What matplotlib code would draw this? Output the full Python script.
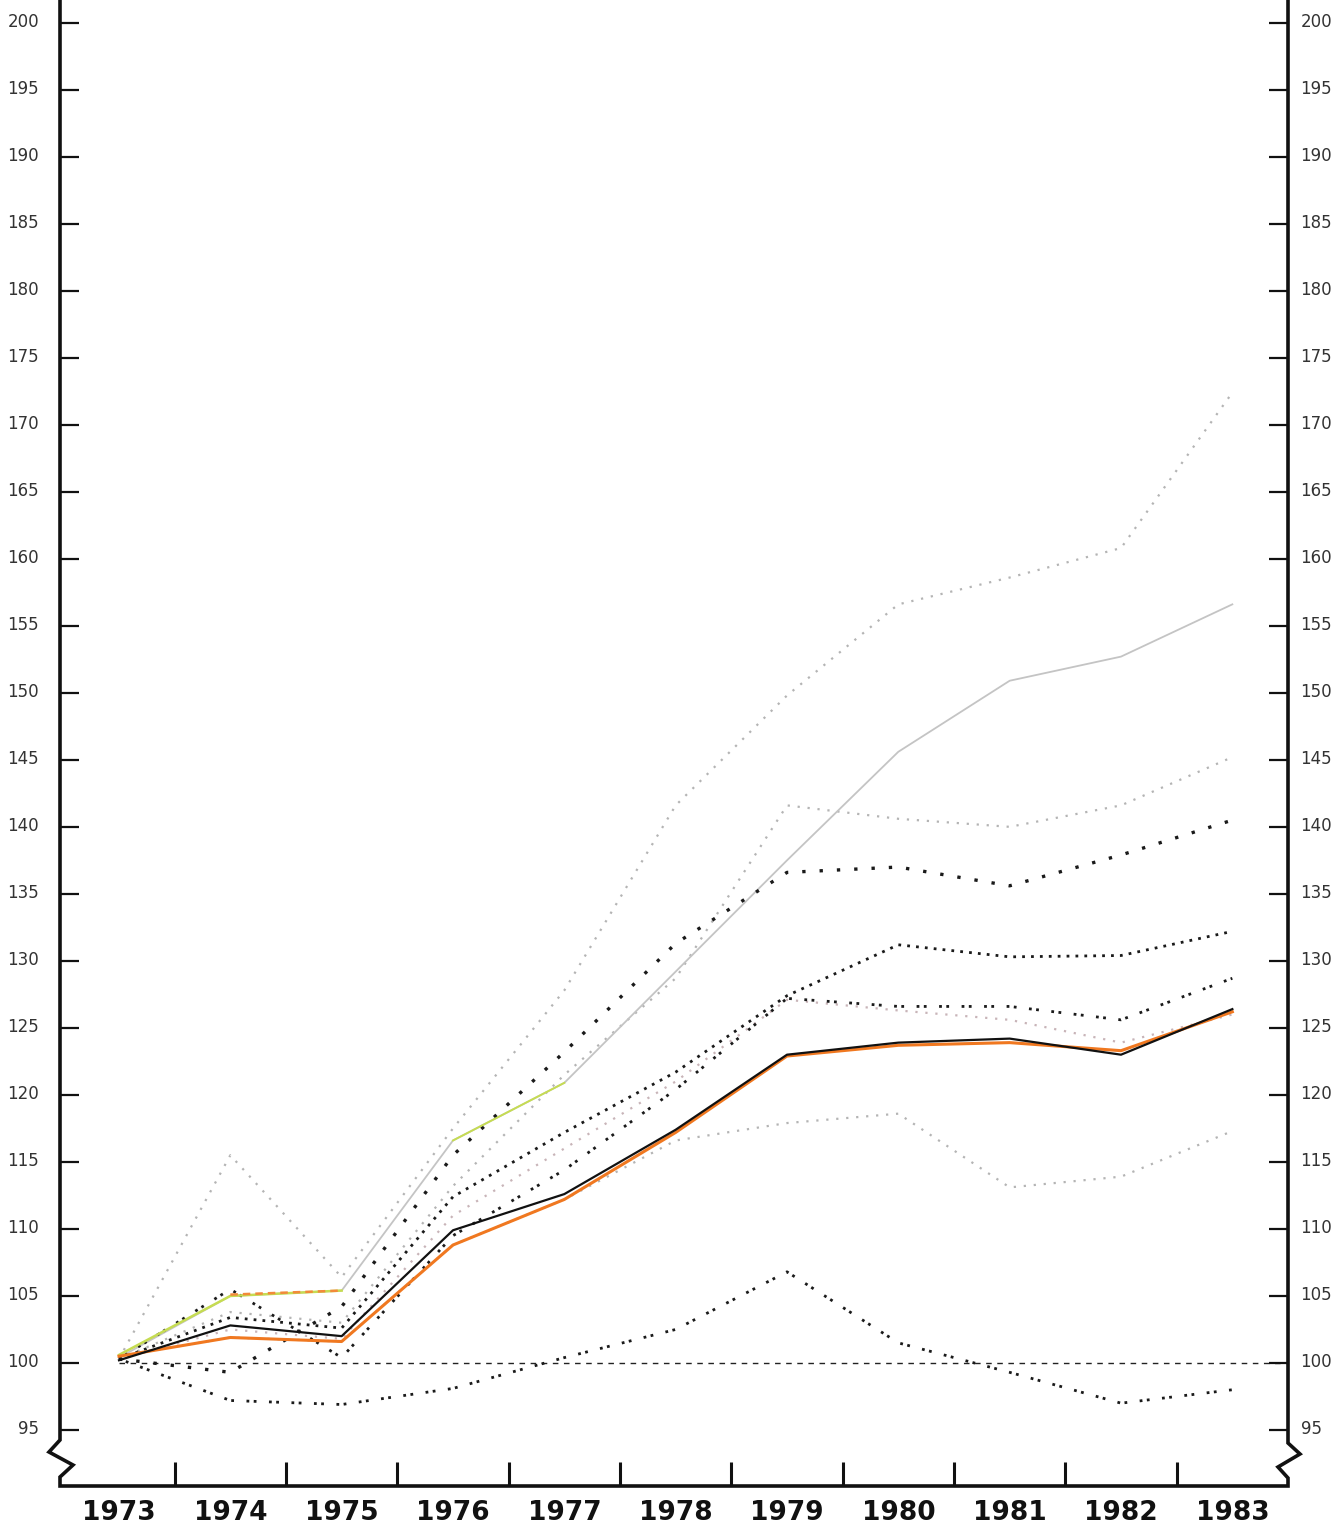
import matplotlib
matplotlib.use("Agg")
import matplotlib.pyplot as plt
from matplotlib.transforms import ScaledTranslation

# ---- data -------------------------------------------------------------
years = [1973, 1974, 1975, 1976, 1977, 1978, 1979, 1980, 1981, 1982, 1983]
year_labels = [str(y) for y in years]
y_ticks = list(range(95, 201, 5))

# solid lines
main_index = [100.2, 102.8, 102.0, 109.9, 112.6, 117.4, 123.0, 123.9, 124.2, 123.0, 126.4]
orange_index = [100.5, 101.9, 101.6, 108.8, 112.2, 117.2, 122.9, 123.7, 123.9, 123.3, 126.2]
grey_solid = [100.4, 105.0, 105.4, 116.6, 120.9, 129.2, 137.5, 145.6, 150.9, 152.7, 156.6]
green_early = [100.6, 105.0, 105.4]
orange_early = [100.5, 105.1, 105.4]

# black dotted lines
dot_a = [100.3, 99.3, 104.2, 115.5, 123.2, 131.3, 136.6, 137.0, 135.6, 137.9, 140.5]
dot_b = [100.3, 103.4, 102.6, 112.4, 117.2, 121.7, 127.4, 131.2, 130.3, 130.4, 132.2]
dot_c = [100.3, 105.5, 100.4, 109.5, 114.4, 120.4, 127.2, 126.6, 126.6, 125.6, 128.7]
dot_d = [100.3, 97.2, 96.9, 98.1, 100.4, 102.5, 106.8, 101.5, 99.3, 97.0, 98.0]

# grey dotted lines
grey_a = [100.3, 115.5, 106.4, 117.5, 127.8, 141.6, 149.8, 156.6, 158.6, 160.8, 172.4]
grey_b = [100.3, 103.8, 103.0, 113.2, 121.5, 128.7, 141.6, 140.6, 140.0, 141.6, 145.2]
grey_c = [100.5, 101.9, 101.6, 108.8, 112.2, 116.6, 117.9, 118.6, 113.1, 113.9, 117.3]
grey_d = [100.3, 102.5, 101.8, 111.0, 116.0, 121.0, 127.1, 126.3, 125.6, 123.9, 126.0]

baseline = 100

# ---- figure -----------------------------------------------------------
W, H = 1336, 1528
fig = plt.figure(figsize=(W / 100, H / 100), dpi=100)
fig.patch.set_facecolor("white")

left_px, right_px, bottom_px = 60, 1288, 1486
ax = fig.add_axes([left_px / W, (H - bottom_px) / H,
                   (right_px - left_px) / W, bottom_px / H])
ax.set_facecolor("white")

x0, x1 = 1972.47, 1983.50
y0, y1 = 90.82, 201.69
ax.set_xlim(x0, x1)
ax.set_ylim(y0, y1)
for s in ax.spines.values():
    s.set_visible(False)

# reference line at 100
ax.plot([years[0], x1], [baseline, baseline], color="#222222", lw=1.0,
        ls=(0, (4, 4)), zorder=2)

# grey dotted
gd = dict(color="#b4b4b4", lw=1.6, ls=(0, (1, 3.5)), zorder=2)
ax.plot(years, grey_a, **gd)
ax.plot(years, grey_b, **gd)
ax.plot(years, grey_c, **gd)
ax.plot(years, grey_d, color="#c8b4b8", lw=1.6, ls=(0, (1, 3.5)), zorder=2)

# grey solid
ax.plot(years, grey_solid, color="#c4c4c4", lw=1.3, zorder=3)

# black dotted
ax.plot(years, dot_a, color="#1a1a1a", lw=2.4, ls=(0, (1, 4.2)), zorder=4)
ax.plot(years, dot_b, color="#1a1a1a", lw=2.0, ls=(0, (1, 2.2)), zorder=4)
ax.plot(years, dot_c, color="#1a1a1a", lw=2.0, ls=(0, (1, 1.6, 1, 4.5)), zorder=4)
ax.plot(years, dot_d, color="#1a1a1a", lw=2.0, ls=(0, (1, 1.6, 1, 4.5)), zorder=4)

# coloured solids
ax.plot(years[:len(green_early)], green_early, color="#c6dc52", lw=1.8, zorder=5)
ax.plot(years[3:5], grey_solid[3:5], color="#c6dc52", lw=1.4, zorder=5)
ax.plot(years[1:len(orange_early)], orange_early[1:], color="#f28a3a", lw=1.8,
        ls=(0, (3, 2)), zorder=5)
ax.plot(years, orange_index, color="#f07820", lw=2.2, zorder=5)
ax.plot(years, main_index, color="#111111", lw=1.6, zorder=6)

# ---- axes frame with broken-axis zigzags -------------------------------
px_x = (x1 - x0) / (right_px - left_px)        # years per pixel
px_y = (y1 - y0) / bottom_px                   # index units per pixel
def ypx(p):
    return y0 + (bottom_px - p) * px_y

frame = dict(color="#111111", lw=2.6, clip_on=False, zorder=10,
             solid_joinstyle="miter")
ax.plot([x0, x0, x0 - 11 * px_x, x0 + 13 * px_x, x0, x0, x1, x1,
         x1 - 10 * px_x, x1 + 12 * px_x, x1, x1],
        [y1, ypx(1440), ypx(1452), ypx(1465), ypx(1477), y0, y0, ypx(1478),
         ypx(1467), ypx(1454), ypx(1443), y1], **frame)

# ---- ticks -------------------------------------------------------------
lift = ScaledTranslation(0, 3 / 100, fig.dpi_scale_trans)

ax.set_yticks(y_ticks)
ax.set_yticklabels([str(v) for v in y_ticks])
ax.tick_params(axis="y", which="major", direction="in", length=14, width=1.6,
               left=True, right=False, labelleft=True, labelright=False,
               pad=15, labelsize=12, labelcolor="#333333", color="#111111")
for lab in ax.get_yticklabels():
    lab.set_transform(lab.get_transform() + lift)

# right-hand scale repeats the left one
axr = ax.twinx()
axr.set_ylim(y0, y1)
for s in axr.spines.values():
    s.set_visible(False)
axr.set_yticks(y_ticks)
axr.set_yticklabels([str(v) for v in y_ticks])
axr.tick_params(axis="y", which="major", direction="in", length=14, width=1.6,
                pad=9, labelsize=12, labelcolor="#333333", color="#111111")
for lab in axr.get_yticklabels():
    lab.set_transform(lab.get_transform() + lift)

ax.set_xticks([y + 0.5 for y in years[:-1]])
ax.set_xticklabels([])
ax.set_xticks(years, minor=True)
ax.set_xticklabels(year_labels, minor=True, fontsize=19, fontweight="bold",
                   color="#111111")
ax.tick_params(axis="x", which="major", direction="in", length=17, width=2.2,
               color="#111111")
ax.tick_params(axis="x", which="minor", length=0, pad=10)

fig.savefig("out.png", dpi=100, facecolor="white")
